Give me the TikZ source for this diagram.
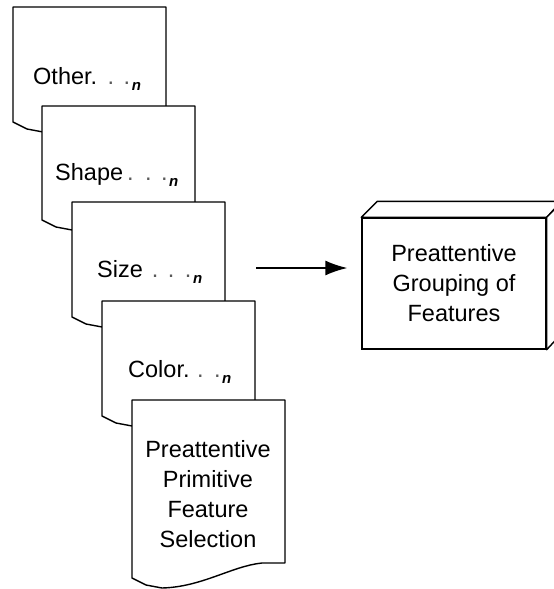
\documentclass[tikz,border=0pt]{standalone}
\usepackage{fontspec}
\setmainfont{Liberation Sans}
\usetikzlibrary{arrows.meta}

% A stacked "document" sheet: left edge x, top edge y, height of the left side
\newcommand\docpage[3]{%
  \draw[page, shift={(#1,#2)}]
    (0,0) -- (153,0) -- (153,#3-15) -- (130,#3-15)
    .. controls (100,#3-12) and (70,#3+9) .. (30,#3+10)
    -- (14,#3+7) -- (0,#3) -- cycle;}
\newcommand\sub{\hspace{1.5pt}\raisebox{-6.5pt}{\fontsize{15}{15}\selectfont\bfseries\itshape n}}
\newcommand\pt{\textcolor{black!65}{.}}

\begin{document}
\begin{tikzpicture}[x=1pt, y=-1pt,
  page/.style={draw=black, fill=white, line width=1.4pt, line join=round},
  label/.style={anchor=base west, inner sep=0pt, font=\fontsize{23.5}{30}\selectfont},
  blocktext/.style={align=center, font=\fontsize{23.5}{30}\selectfont},
  cube/.style={draw=black, fill=white, line width=1.4pt, minimum width=184pt,
    minimum height=131pt, inner sep=0pt},
  flow/.style={line width=1.4pt,
    -{Latex[length=22pt, width=15pt]}}]

\useasboundingbox (0,0) rectangle (554,589);

% stacked feature sheets, back to front
\docpage{13}{7}{115}
\node[label] (other) at (33,84) {Other.\hspace{10.5pt}\pt\hspace{9.5pt}\pt\sub};
\docpage{42}{106}{114}
\node[label] (shape) at (55,180) {Shape\hspace{4pt}\pt\hspace{11.5pt}\pt\hspace{9.5pt}\pt\sub};
\docpage{72}{202}{115}
\node[label] (size) at (97,277) {Size\hspace{9pt}\pt\hspace{9.5pt}\pt\hspace{10.5pt}\pt\sub};
\docpage{102}{301}{115}
\node[label] (color) at (128,377) {Color.\hspace{7.5pt}\pt\hspace{10.5pt}\pt\sub};
\docpage{132}{400}{178}
\node[blocktext] (selection) at (208,494)
  {Preattentive\\Primitive\\Feature\\Selection};

% grouping block drawn as a box with depth
\node[cube] (box) at (454,283.5) {};
\draw[page] (box.north west) -- ++(16,-16) -- ++(184,0) -- (box.north east) -- cycle;
\draw[page] (box.north east) -- ++(16,-16) -- ++(0,131) -- (box.south east) -- cycle;
\node[blocktext] (grouping) at (box.center) {Preattentive\\Grouping of\\Features};

% flow into the grouping block
\coordinate (feed) at (256,268);
\draw[flow, shorten >=14pt] (feed) -- (feed -| box.west);
\end{tikzpicture}
\end{document}
